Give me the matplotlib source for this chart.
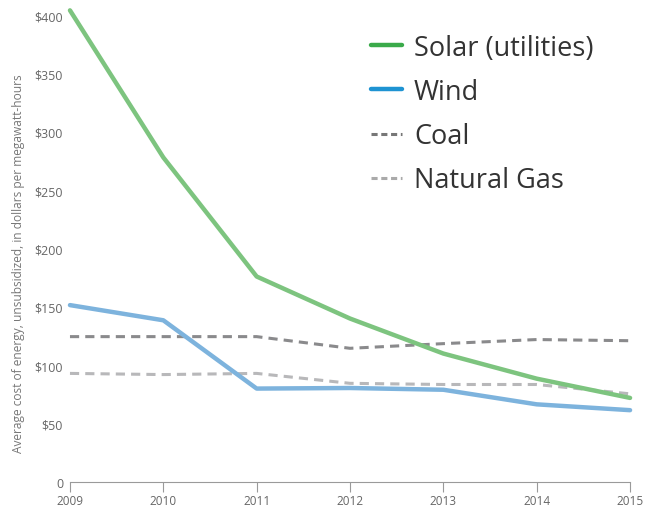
import matplotlib.pyplot as plt
from matplotlib.lines import Line2D

years = [2009, 2010, 2011, 2012, 2013, 2014, 2015]
solar = [404, 278, 176, 140, 110, 88.5, 72]
wind = [151.5, 138.5, 80, 80.5, 79, 66.5, 61.5]
coal = [124.5, 124.5, 124.5, 114.5, 118.5, 122, 121]
gas = [93, 92, 93, 84.5, 83.5, 83.5, 75.5]

y_ticks = [0, 50, 100, 150, 200, 250, 300, 350, 400]
y_labels = ["0", "$50", "$100", "$150", "$200", "$250", "$300", "$350", "$400"]

plt.rcParams['font.family'] = ['Open Sans', 'DejaVu Sans']

fig = plt.figure(figsize=(6.57, 5.10), dpi=100)
ax = fig.add_axes([0.1065, 0.053, 0.8525, 0.9156])

# lines, drawn lightly; legend keys use stronger colours
ax.plot(years, coal, color='#8a8a8c', lw=2.2, ls=(0, (3, 2)), clip_on=False)
ax.plot(years, gas, color='#b8b8ba', lw=2.2, ls=(0, (3, 2)), clip_on=False)
ax.plot(years, wind, color='#7db3dd', lw=3.2, solid_capstyle='round', clip_on=False)
ax.plot(years, solar, color='#7dc47f', lw=3.2, solid_capstyle='round', clip_on=False)

ax.set_xlim(2009, 2015)
ax.set_ylim(0, 400)
ax.set_xticks(years)
ax.set_xticklabels([str(y) for y in years])
ax.set_yticks(y_ticks)
ax.set_yticklabels(y_labels)

for s in ['top', 'right', 'left']:
    ax.spines[s].set_visible(False)
ax.spines['bottom'].set_color('#9a9a9a')
ax.spines['bottom'].set_linewidth(0.8)
ax.tick_params(axis='x', colors='#9a9a9a', length=7, width=0.8,
               labelcolor='#666666', labelsize=8.5, pad=2)
ax.tick_params(axis='y', length=0, labelcolor='#666666', labelsize=9, pad=5)

fig.text(0.028, 0.482, "Average cost of energy, unsubsidized, in dollars per megawatt-hours",
         rotation=90, va='center', ha='center', fontsize=8.6, color='#777777')

handles = [
    Line2D([], [], color='#3aaa4a', lw=3.2, solid_capstyle='round'),
    Line2D([], [], color='#1e93d2', lw=3.2, solid_capstyle='round'),
    Line2D([], [], color='#777777', lw=2.2, ls=(0, (2, 1.2))),
    Line2D([], [], color='#aaaaaa', lw=2.2, ls=(0, (2, 1.2))),
]
labels = ["Solar (utilities)", "Wind", "Coal", "Natural Gas"]
leg = ax.legend(handles, labels, loc='upper left', bbox_to_anchor=(0.537, 0.96),
                frameon=False, fontsize=19.5, handlelength=1.15, handletextpad=0.45,
                labelspacing=0.6, borderaxespad=0, borderpad=0)
for t in leg.get_texts():
    t.set_color('#333333')

fig.savefig('out.png', dpi=100)
